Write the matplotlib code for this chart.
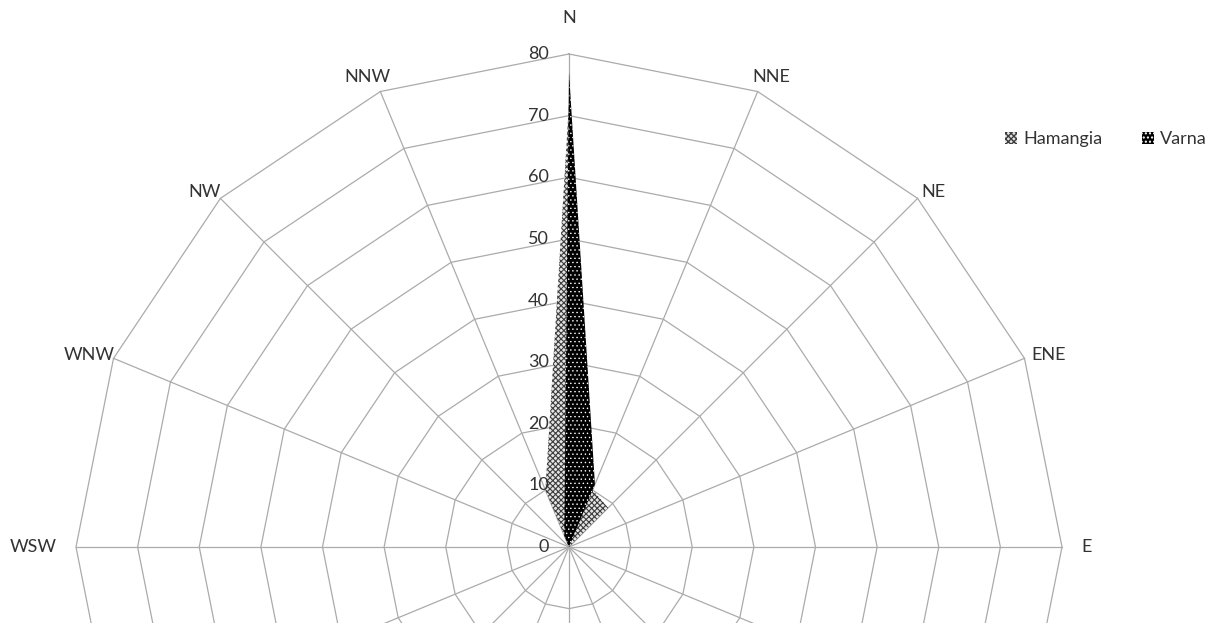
import numpy as np
import matplotlib
matplotlib.use("Agg")
import matplotlib.pyplot as plt
from matplotlib.patches import Patch

plt.rcParams['font.family'] = ['Lato', 'DejaVu Sans']

# wind directions, clockwise from north
directions = ['N', 'NNE', 'NE', 'ENE', 'E', 'ESE', 'SE', 'SSE',
              'S', 'SSW', 'SW', 'WSW', 'WSW', 'WNW', 'NW', 'NNW']
hamangia = [72, 10, 9, 0, 0, 0, 0, 0, 0, 0, 0, 0, 0, 0, 0, 10]
varna = [77, 11, 0, 0, 0, 0, 0, 0, 0, 0, 0, 0, 0, 0, 0, 2]
rings = [0, 10, 20, 30, 40, 50, 60, 70, 80]

grid_col = '#ababab'
text_col = '#333333'
fs = 13

# fill styles for the two sites
ham_style = dict(facecolor='#e4e4e4', edgecolor='#3c3c3c', hatch='xxxxxx', lw=0)
var_style = dict(facecolor='black', edgecolor='white', hatch='....', lw=0)

n = len(directions)
theta = np.arange(n) * 2 * np.pi / n
closed = np.append(theta, theta[0])

fig = plt.figure(figsize=(12.1, 6.23), dpi=100)
W, H = 1210, 623
cx, cy, R = 569, 623 - 547, 493
ax = fig.add_axes([(cx - R) / W, (cy - R) / H, 2 * R / W, 2 * R / H],
                  projection='polar')
ax.set_theta_zero_location('N')
ax.set_theta_direction(-1)
ax.set_ylim(0, 80)
ax.set_axis_off()

# straight-edged web: rings and spokes
for r in rings[1:]:
    ax.plot(closed, [r] * (n + 1), color=grid_col, lw=0.9, clip_on=False, zorder=1)
for t in theta:
    ax.plot([t, t], [0, rings[-1]], color=grid_col, lw=0.9, clip_on=False, zorder=1)

# filled series
with plt.rc_context({'hatch.linewidth': 0.8}):
    ax.fill(closed, np.append(hamangia, hamangia[0]), zorder=2, **ham_style)
    h_ham = Patch(**ham_style)
with plt.rc_context({'hatch.linewidth': 0.5}):
    ax.fill(closed, np.append(varna, varna[0]), zorder=3, **var_style)
    h_var = Patch(**var_style)

# value labels along the north spoke
for r in rings:
    ax.annotate(str(r), xy=(0, r), xytext=(-14.4, 0), textcoords='offset points',
                ha='right', va='center', fontsize=fs, color=text_col)

# direction labels (only the upper half fits on the page)
for t, lab in zip(theta, directions):
    s, c = np.sin(t), np.cos(t)
    if c < -0.01:
        continue
    if abs(s) > 0.99:
        ax.annotate(lab, xy=(t, 80), xytext=(14 * np.sign(s), 0),
                    textcoords='offset points', ha='left' if s > 0 else 'right',
                    va='center', fontsize=fs, color=text_col)
    elif c > 0.99:
        ax.annotate(lab, xy=(t, 80), xytext=(0, 26), textcoords='offset points',
                    ha='center', va='center', fontsize=fs, color=text_col)
    else:
        rl = 82.4 + 2.4 * abs(np.cos(2 * t)) ** 3
        ax.annotate(lab, xy=(t, rl), xytext=(4 * np.sign(s), -3),
                    textcoords='offset points', ha='center', va='center',
                    fontsize=fs, color=text_col, annotation_clip=False)

fig.legend([h_ham, h_var], ['Hamangia', 'Varna'], loc='center left',
           bbox_to_anchor=(1005 / W, 1 - 139 / H), ncol=2, frameon=False,
           fontsize=fs, labelcolor=text_col, handlelength=0.65, handleheight=0.65,
           handletextpad=0.35, columnspacing=2.2, borderpad=0, borderaxespad=0)

fig.savefig('out.png', dpi=100)
